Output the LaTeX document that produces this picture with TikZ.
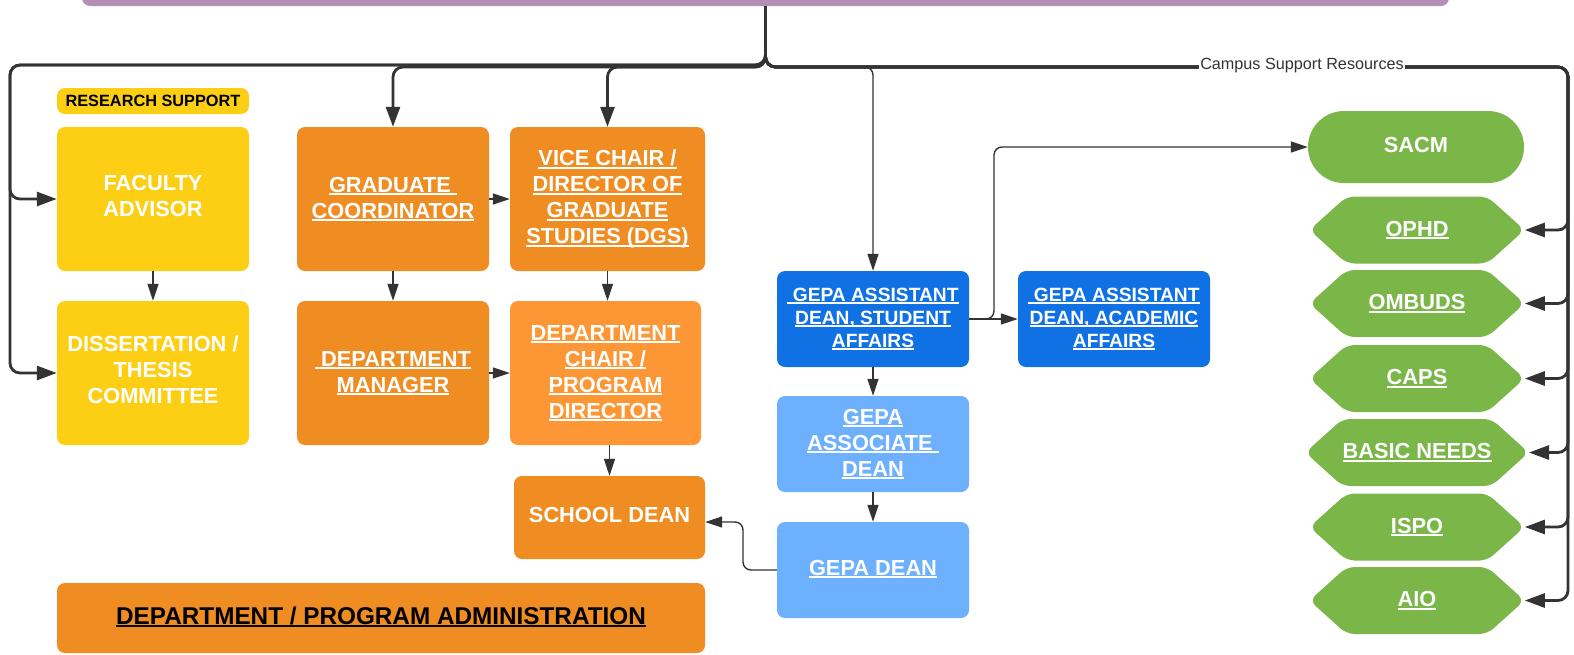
\documentclass[tikz,border=0pt]{standalone}
\usepackage{fontspec}
\setmainfont{Liberation Sans}
\usetikzlibrary{positioning,arrows.meta,shapes.symbols}
\definecolor{lilac}{HTML}{B48EB6}
\definecolor{sunyellow}{HTML}{FCCF15}
\definecolor{deptorange}{HTML}{EF8D22}
\definecolor{chairorange}{HTML}{FD9735}
\definecolor{gepablue}{HTML}{1071E5}
\definecolor{skyblue}{HTML}{6DB0FE}
\definecolor{campgreen}{HTML}{7AB648}
\definecolor{linegray}{HTML}{333333}
\newcommand\lnk[1]{\setbox0\hbox{#1}\rlap{\rule[-3pt]{\wd0}{1.9pt}}\box0}

\begin{document}
\begin{tikzpicture}[x=1pt, y=-1pt,
  box/.style={rectangle, rounded corners=8pt, inner sep=0pt, minimum width=192pt, minimum height=144pt, align=center, text=white, font=\fontsize{21.8}{26}\selectfont\bfseries},
  plain/.style={text depth=6pt},
  ybox/.style={box, fill=sunyellow},
  obox/.style={box, fill=deptorange},
  gbox/.style={box, fill=gepablue, minimum height=96pt, font=\fontsize{19.2}{23}\selectfont\bfseries},
  lgbox/.style={box, fill=skyblue, minimum height=96pt},
  tag/.style={rectangle, rounded corners=8pt, fill=sunyellow, minimum width=192pt, minimum height=26pt, inner sep=0pt, font=\fontsize{16.3}{19}\selectfont\bfseries},
  hexnode/.style={shape=signal, signal to=east and west, signal pointer angle=84, rounded corners=8pt, fill=campgreen, minimum width=215pt, minimum height=67pt, inner sep=0pt, text=white, font=\fontsize{21.8}{26}\selectfont\bfseries},
  pill/.style={rectangle, rounded corners=36pt, fill=campgreen, minimum width=216pt, minimum height=72pt, text depth=4pt, text=white, font=\fontsize{21.8}{26}\selectfont\bfseries},
  trunk/.style={-{Triangle[length=20pt,width=14pt]}, line width=2.8pt, draw=linegray, rounded corners=10pt},
  arrow/.style={-{Triangle[length=17pt,width=11pt]}, line width=1.4pt, draw=linegray, rounded corners=8pt},
  lbl/.style={fill=white, inner sep=1pt, text=linegray, font=\fontsize{16.2}{19}\selectfont}
]
\useasboundingbox (0,0) rectangle (1574,654);
\clip (0,0) rectangle (1574,654);

\node[rectangle, rounded corners=8pt, fill=lilac, minimum width=1367pt, minimum height=40pt] (bar) at (765.5,-14) {};

\node[tag] (research) at (153,101) {RESEARCH SUPPORT};
\node[ybox, plain] (fac) at (153,199) {FACULTY\\ADVISOR};
\node[ybox, plain] (diss) at (153,373) {DISSERTATION /\\THESIS\\COMMITTEE};
\node[obox] (grad) at (393,199) {\lnk{GRADUATE\ }\\\lnk{COORDINATOR}};
\node[obox, minimum width=195pt] (vice) at (607.5,199) {\lnk{VICE CHAIR /}\\\lnk{DIRECTOR OF}\\\lnk{GRADUATE}\\\lnk{STUDIES (DGS)}};
\node[obox] (mgr) at (393,373) {\lnk{\ DEPARTMENT}\\\lnk{MANAGER}};
\node[obox, fill=chairorange, minimum width=191pt] (chair) at (605.5,373) {\lnk{DEPARTMENT}\\\lnk{CHAIR /}\\\lnk{PROGRAM}\\\lnk{DIRECTOR}};
\node[obox, plain, minimum width=191pt, minimum height=83pt] (sdean) at (609.5,517.5) {SCHOOL DEAN};
\node[obox, minimum width=648pt, minimum height=70pt, text=black, text depth=5pt, font=\fontsize{24.3}{28}\selectfont\bfseries] (admin) at (381,618) {\lnk{DEPARTMENT / PROGRAM ADMINISTRATION}};

\node[gbox] (gstu) at (873,319) {\lnk{\ GEPA ASSISTANT}\\\lnk{DEAN, STUDENT}\\\lnk{AFFAIRS}};
\node[gbox] (gacad) at (1114,319) {\lnk{\ GEPA ASSISTANT}\\\lnk{DEAN, ACADEMIC}\\\lnk{AFFAIRS}};
\node[lgbox] (gassoc) at (873,444) {\lnk{GEPA}\\\lnk{ASSOCIATE\ }\\\lnk{DEAN}};
\node[lgbox, text depth=5pt] (gdean) at (873,570) {\lnk{GEPA DEAN}};

\node[pill] (sacm) at (1416,147) {SACM};

\coordinate (lbend) at (10,65);
\coordinate (rbend) at (1568,67);
\coordinate (gbend) at (743,522);
\coordinate (sbend) at (994,147);

% campus resources
\foreach \nm/\txt/\yy in {ophd/OPHD/230, ombuds/OMBUDS/303.5, caps/CAPS/378.5, basic/BASIC NEEDS/452.5, ispo/ISPO/527, aio/AIO/600.5} {
  \node[hexnode] (\nm) at (1417,\yy) {\lnk{\txt}};
  \draw[trunk] (bar.south) |- (rbend) |- (\nm.east);
}

\draw[trunk] (bar.south) |- (lbend) |- (fac.west);
\draw[trunk] (bar.south) |- (lbend) |- (diss.west);
\draw[trunk] (bar.south) |- (grad.north |- rbend) -- (grad.north);
\draw[trunk] (bar.south) |- (vice.north |- rbend) -- (vice.north);
\draw[arrow] (bar.south) |- (gstu.north |- rbend) -- (gstu.north);

\draw[arrow] (fac) -- (diss);
\draw[arrow] (grad) -- (mgr);
\draw[arrow] (grad) -- (vice);
\draw[arrow] (vice.south) -- (vice.south |- chair.north);
\draw[arrow] (mgr) -- (chair);
\draw[arrow] (chair.south -| sdean) -- (sdean.north);
\draw[arrow] (gdean.west) -| (gbend) -- (sdean.east |- gbend);
\draw[arrow] (gstu) -- (gacad);
\draw[arrow] (gstu.east) -| (sbend) -- (sacm.west);
\draw[arrow] (gstu) -- (gassoc);
\draw[arrow] (gassoc) -- (gdean);

\node[lbl] (campus) at (1302,66) {Campus Support Resources};
\end{tikzpicture}
\end{document}
